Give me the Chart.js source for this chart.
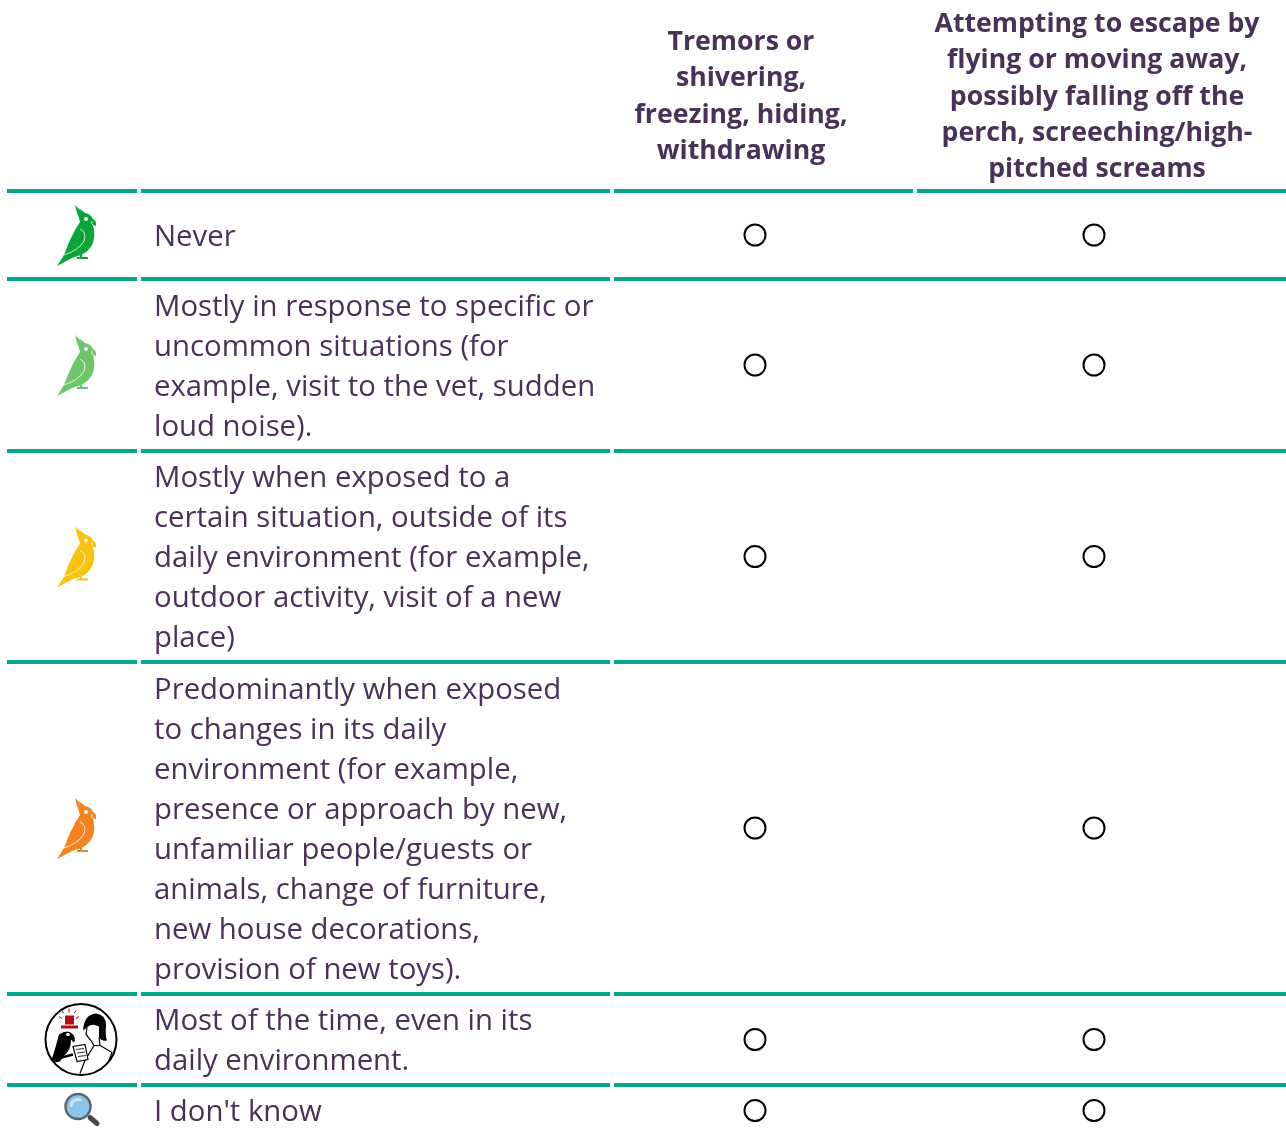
<!DOCTYPE html>
<html>
<head>
<meta charset="utf-8">
<style>
  html, body { margin: 0; padding: 0; background: #fff; }
  #wrap { width: 1286px; height: 1133px; overflow: hidden; }
  #grid { display: block; }
</style>
<script src="https://cdn.jsdelivr.net/npm/chart.js@4/dist/chart.umd.min.js"></script>
</head>
<body>
<!-- canvas is 3px taller than the page: the last row runs past the bottom of the picture -->
<div id="wrap"><canvas id="grid" width="1286" height="1136"></canvas></div>
<script>
// questions (columns)
const questions = ['Tremors', 'Attempting to escape'];
const questionLines = [
  ['Tremors or', 'shivering,', 'freezing, hiding,', 'withdrawing'],
  ['Attempting to escape by', 'flying or moving away,', 'possibly falling off the', 'perch, screeching/high-', 'pitched screams']
];

// answers (rows), wrapped as in the survey form
const answers = [
  ['Never'],
  ['Mostly in response to specific or', 'uncommon situations (for', 'example, visit to the vet, sudden', 'loud noise).'],
  ['Mostly when exposed to a', 'certain situation, outside of its', 'daily environment (for example,', 'outdoor activity, visit of a new', 'place)'],
  ['Predominantly when exposed', 'to changes in its daily', 'environment (for example,', 'presence or approach by new,', 'unfamiliar people/guests or', 'animals, change of furniture,', 'new house decorations,', 'provision of new toys).'],
  ['Most of the time, even in its', 'daily environment.'],
  ["I don't know"]
];
const rowIcons = ['#0aa537', '#6cc76b', '#fdc20a', '#f58220', 'alert', 'search'];

// row heights on the y axis, the radio buttons sit in the middle of each row
const rowHeights = [88, 172, 211, 332, 91, 51];

const TEXT = '#4a3157';
const RULE = '#06a88c';
const LABEL_DROP = 2.6; // answer text sits a little under the radio button

const rowStart = i => rowHeights.slice(0, i).reduce((a, b) => a + b, 0);
const rowCentre = i => rowStart(i) + rowHeights[i] / 2;
const total = rowStart(rowHeights.length);

// one empty radio button per row for each question
const radioPoints = q => answers.map((a, i) => ({ x: q, y: rowCentre(i) }));

function drawBird(c, cx, cy, colour) {
  c.save();
  c.translate(cx, cy);
  c.fillStyle = colour;
  c.beginPath();
  c.moveTo(-1, -30);
  c.lineTo(5, -24);
  c.lineTo(3, -27);
  c.lineTo(9, -22);
  c.quadraticCurveTo(15, -21, 17, -16);
  c.quadraticCurveTo(21, -14, 20, -9);
  c.lineTo(17, -10);
  c.quadraticCurveTo(20, 2, 16, 10);
  c.quadraticCurveTo(12, 17, 5, 20);
  c.lineTo(-4, 23);
  c.lineTo(-19, 31);
  c.lineTo(-12, 20);
  c.quadraticCurveTo(-8, 8, -1, -5);
  c.lineTo(4, -13);
  c.quadraticCurveTo(3, -18, 1, -22);
  c.closePath();
  c.fill();
  c.lineWidth = 2;
  c.strokeStyle = colour;
  c.beginPath();
  c.moveTo(1, 23);
  c.lineTo(12, 23);
  c.moveTo(5, 18);
  c.lineTo(5, 23);
  c.stroke();
  c.fillStyle = '#fff';
  c.beginPath();
  c.arc(10, -16, 2, 0, Math.PI * 2);
  c.fill();
  c.strokeStyle = 'rgba(255,255,255,0.8)';
  c.lineWidth = 1;
  c.beginPath();
  c.moveTo(-12, 20);
  c.quadraticCurveTo(3, 15, 8, 6);
  c.quadraticCurveTo(11, -3, 4, -6);
  c.moveTo(16, -14);
  c.quadraticCurveTo(15, -11, 17, -10);
  c.stroke();
  c.restore();
}

function drawAlert(c, cx, cy) {
  c.save();
  c.translate(cx, cy);
  c.beginPath();
  c.arc(0, 0, 35.5, 0, Math.PI * 2);
  c.fillStyle = '#fff';
  c.fill();
  c.clip();
  // siren
  c.fillStyle = '#b50d12';
  c.fillRect(-16, -24, 9, 9);
  c.fillRect(-20, -14, 17, 3);
  c.strokeStyle = '#b50d12';
  c.lineWidth = 1;
  [[-22, -23, -19, -21], [-2, -23, -5, -21], [-12, -31, -12, -27], [-19, -29, -17, -26], [-5, -29, -7, -26]].forEach(s => {
    c.beginPath(); c.moveTo(s[0], s[1]); c.lineTo(s[2], s[3]); c.stroke();
  });
  // woman, hair and outline
  c.fillStyle = '#000';
  c.beginPath();
  c.moveTo(2, -9);
  c.quadraticCurveTo(3, -25, 15, -26);
  c.quadraticCurveTo(25, -25, 25, -14);
  c.quadraticCurveTo(24, -4, 26, 1);
  c.quadraticCurveTo(21, 2, 18, -2);
  c.lineTo(18, -13);
  c.quadraticCurveTo(10, -17, 6, -12);
  c.closePath();
  c.fill();
  c.strokeStyle = '#000';
  c.lineWidth = 1.2;
  c.beginPath();
  c.moveTo(6, -12); c.lineTo(5, -5); c.lineTo(10, 1); c.lineTo(13, 6); c.lineTo(4, 21); c.lineTo(-1, 34);
  c.moveTo(18, -2); c.lineTo(19, 6); c.lineTo(31, 13); c.lineTo(27, 24); c.lineTo(16, 35);
  c.moveTo(13, 6); c.lineTo(19, 6);
  c.stroke();
  // sheet of paper
  c.fillStyle = '#fff';
  c.beginPath();
  c.moveTo(-8, 7); c.lineTo(4, 5); c.lineTo(7, 20); c.lineTo(-4, 22);
  c.closePath();
  c.fill();
  c.stroke();
  c.lineWidth = 0.8;
  [0, 1, 2].forEach(i => {
    c.beginPath();
    c.moveTo(-5 + i, 10 + i * 3.5);
    c.lineTo(3 + i, 9 + i * 3.5);
    c.stroke();
  });
  // parrot on arm
  c.fillStyle = '#000';
  c.beginPath();
  c.moveTo(-22, -5);
  c.quadraticCurveTo(-13, -11, -8, -5);
  c.quadraticCurveTo(-5, -1, -7, 3);
  c.lineTo(-10, 0);
  c.quadraticCurveTo(-10, 11, -17, 16);
  c.lineTo(-21, 22);
  c.lineTo(-31, 24);
  c.quadraticCurveTo(-27, 14, -25, 6);
  c.closePath();
  c.fill();
  c.fillStyle = '#fff';
  c.beginPath();
  c.arc(-13, -5, 1.8, 0, Math.PI * 2);
  c.fill();
  c.strokeStyle = '#000';
  c.lineWidth = 2.5;
  c.beginPath();
  c.moveTo(-35, 22);
  c.lineTo(-8, 15);
  c.stroke();
  c.restore();
  c.beginPath();
  c.arc(cx, cy, 35.5, 0, Math.PI * 2);
  c.strokeStyle = '#000';
  c.lineWidth = 2;
  c.stroke();
}

function drawSearch(c, cx, cy) {
  c.save();
  c.translate(cx, cy);
  c.strokeStyle = '#3f4a52';
  c.lineCap = 'round';
  c.lineWidth = 5;
  c.beginPath();
  c.moveTo(7, 8);
  c.lineTo(14, 14);
  c.stroke();
  c.beginPath();
  c.arc(-5, -3, 12.5, 0, Math.PI * 2);
  c.fillStyle = '#8cc4ea';
  c.fill();
  c.lineWidth = 2.5;
  c.strokeStyle = '#5b6770';
  c.stroke();
  c.strokeStyle = '#cfe8f8';
  c.lineWidth = 3;
  c.beginPath();
  c.arc(-5, -3, 7, Math.PI * 1.05, Math.PI * 1.6);
  c.stroke();
  c.restore();
}

// rules, header text and row icons live outside of the plot area
const tableDecor = {
  id: 'tableDecor',
  beforeDraw(chart) {
    const c = chart.ctx;
    const y = chart.scales.y;
    const x = chart.scales.x;

    c.save();
    c.fillStyle = RULE;
    // header rule has an extra gap between the two questions
    [[7, 137], [141, 610], [614, 913], [917, 1286]].forEach(s => c.fillRect(s[0], y.top - 2, s[1] - s[0], 4));
    rowHeights.slice(0, -1).forEach((h, i) => {
      const py = y.getPixelForValue(rowStart(i + 1));
      [[7, 137], [141, 610], [614, 1286]].forEach(s => c.fillRect(s[0], py - 2, s[1] - s[0], 4));
    });

    c.fillStyle = TEXT;
    c.font = 'bold 26.67px "Open Sans"';
    c.textAlign = 'center';
    c.textBaseline = 'middle';
    const shift = [-14, 3];
    const firstLine = [42.4, 24.4];
    questionLines.forEach((lines, q) => {
      const px = x.getPixelForValue(q) + shift[q];
      lines.forEach((t, l) => c.fillText(t, px, firstLine[q] + l * 36.3));
    });

    rowIcons.forEach((icon, i) => {
      const py = y.getPixelForValue(rowCentre(i));
      if (icon === 'alert') drawAlert(c, 81, py);
      else if (icon === 'search') drawSearch(c, 83, py - 1);
      else drawBird(c, 76, py, icon);
    });
    c.restore();
  }
};

const radioStyle = {
  pointStyle: 'circle',
  pointRadius: 10.5,
  pointBorderWidth: 2,
  pointBorderColor: '#000',
  pointBackgroundColor: '#fff',
  showLine: false
};

new Chart(document.getElementById('grid'), {
  type: 'scatter',
  data: {
    labels: questions,
    datasets: questions.map(q => Object.assign({ label: q, data: radioPoints(q), clip: false }, radioStyle))
  },
  plugins: [tableDecor],
  options: {
    responsive: false,
    animation: false,
    layout: { autoPadding: false, padding: { left: 154, right: 192, top: 191, bottom: 0 } },
    plugins: { legend: { display: false }, tooltip: { enabled: false } },
    scales: {
      x: {
        type: 'category',
        offset: false,
        display: false
      },
      y: {
        type: 'linear',
        reverse: true,
        min: 0,
        max: total,
        grid: { display: false },
        border: { display: false },
        afterBuildTicks(scale) {
          scale.ticks = answers.map((a, i) => ({ value: rowCentre(i) + LABEL_DROP }));
        },
        afterFit(scale) {
          scale.width = 601;
          scale.paddingTop = 0;
          scale.paddingBottom = 0;
        },
        ticks: {
          autoSkip: false,
          crossAlign: 'far',
          padding: 0,
          color: TEXT,
          font: { family: '"Open Sans"', size: 29.33, lineHeight: 40 / 29.33 },
          callback(value, index) {
            return answers[index];
          }
        }
      }
    }
  }
});
</script>
</body>
</html>
